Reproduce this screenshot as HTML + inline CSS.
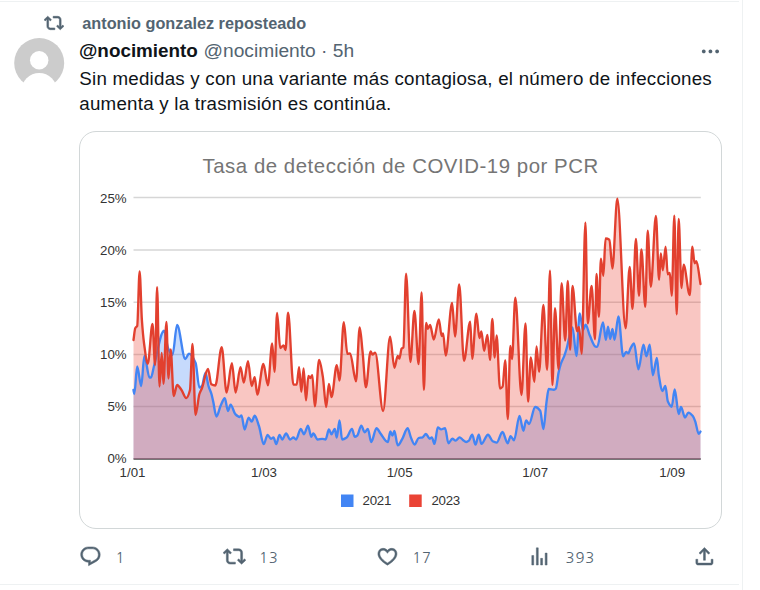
<!DOCTYPE html>
<html><head><meta charset="utf-8"><title>Tweet</title>
<style>
html,body{margin:0;padding:0;background:#fff;}
body{width:760px;height:590px;position:relative;overflow:hidden;font-family:"Liberation Sans",Arial,sans-serif;}
.abs{position:absolute;white-space:nowrap;}
.hl{position:absolute;background:#eef1f2;}
.ctx{left:82.3px;top:12.8px;font-size:16.25px;line-height:20px;font-weight:bold;color:#536471;}
.name{left:79px;top:37.6px;font-size:18.85px;line-height:25px;font-weight:bold;color:#0f1419;}
.handle{left:203.5px;top:37.7px;font-size:19.2px;line-height:25px;color:#536471;}
.body{left:79.3px;top:65.6px;font-size:18.75px;line-height:25px;color:#0f1419;letter-spacing:0.22px;}
.box{position:absolute;left:79px;top:131px;width:641px;height:396px;border:1px solid #d2d7d8;border-radius:17px;}
.chart{position:absolute;left:0;top:0;}
.ico{position:absolute;top:545px;width:22.9px;height:22.9px;fill:#536471;stroke:#536471;stroke-width:0.5px;}
.cnt{position:absolute;top:546.8px;font-size:14.8px;letter-spacing:0.9px;line-height:22px;color:#536471;font-family:"NanumGothic","Liberation Sans",sans-serif;}
</style></head>
<body>
<div class="hl" style="left:0;top:1px;width:739px;height:1px;"></div>
<div class="hl" style="left:742px;top:0;width:1px;height:590px;"></div>
<div class="hl" style="left:0;top:584px;width:739px;height:1px;"></div>

<svg class="abs" style="left:44.1px;top:12.7px;width:20px;height:20px;fill:#536471;stroke:#536471;stroke-width:0.7px" viewBox="0 0 24 24"><path d="M4.5 3.88l4.432 4.14-1.364 1.46L5.5 7.55V16c0 1.1.896 2 2 2H13v2H7.5c-2.209 0-4-1.79-4-4V7.55L1.432 9.48.068 8.02 4.5 3.88zM16.5 6H11V4h5.5c2.209 0 4 1.79 4 4v8.45l2.068-1.93 1.364 1.46-4.432 4.14-4.432-4.14 1.364-1.46 2.068 1.93V8c0-1.1-.896-2-2-2z"/></svg>
<div class="abs ctx">antonio gonzalez reposteado</div>

<svg class="abs" style="left:14px;top:38px;width:50.4px;height:70px;overflow:visible" viewBox="0 0 50 70"><circle cx="25" cy="25" r="25" fill="#cccccc"/><circle cx="25" cy="22.3" r="9.2" fill="#fff"/><circle cx="25" cy="52.8" r="17.8" fill="#fff"/></svg>

<div class="abs name">@nocimiento</div>
<div class="abs handle">@nocimiento · 5h</div>
<svg class="abs" style="left:699px;top:39.5px;width:22.9px;height:22.9px;fill:#536471" viewBox="0 0 24 24"><path d="M3 12c0-1.1.9-2 2-2s2 .9 2 2-.9 2-2 2-2-.9-2-2zm9 2c1.1 0 2-.9 2-2s-.9-2-2-2-2 .9-2 2 .9 2 2 2zm7 0c1.1 0 2-.9 2-2s-.9-2-2-2-2 .9-2 2 .9 2 2 2z"/></svg>

<div class="abs body">Sin medidas y con una variante más contagiosa, el número de infecciones<br>aumenta y la trasmisión es continúa.</div>

<div class="box"></div>
<svg class="chart" width="760" height="590" viewBox="0 0 760 590">
<g stroke="#d6d6d6" stroke-width="1.5">
<line x1="133.5" y1="197.6" x2="700.8" y2="197.6"/>
<line x1="133.5" y1="249.9" x2="700.8" y2="249.9"/>
<line x1="133.5" y1="302.2" x2="700.8" y2="302.2"/>
<line x1="133.5" y1="354.5" x2="700.8" y2="354.5"/>
<line x1="133.5" y1="406.6" x2="700.8" y2="406.6"/>
</g>
<line x1="133.5" y1="459" x2="700.8" y2="459" stroke="#4a4a4a" stroke-width="1.7"/>
<path d="M133.5,459 L133.5,390C133.8,391.3 134,394 134.3,394C135.3,394 136.2,366.5 137.2,366.5C138.5,366.5 139.9,386 141.2,386C142.3,386 143.3,356 144.4,356C146.1,356 147.8,377.5 149.5,377.5C150,377.5 150.5,377.5 151,377.5C152,377.5 153,369.7 154,366C157.3,353.7 160.7,330.7 164,330.7C165.3,330.7 166.7,344.9 168,348C169.5,351.5 171,355 172.5,355C174,355 175.6,325 177.1,325C179.8,325 182.6,359 185.3,359C186.5,359 187.8,353.6 189,353.6C191.2,353.6 193.4,357.6 195.6,363C196.9,366.1 198.1,387.5 199.4,387.5C200.3,387.5 201.1,386.8 202,386C203.1,384.9 204.3,373 205.4,373C206.4,373 207.5,382.6 208.5,386C209.5,389.4 210.6,390.9 211.6,394.5C212.1,396.4 212.7,399.2 213.2,401.6C214.3,406.4 215.3,416.5 216.4,416.5C217.8,416.5 219.2,408.8 220.6,405.8C222,402.8 223.4,398.2 224.8,398.2C225.9,398.2 226.9,411 228,411C228.9,411 229.7,404.6 230.6,404.6C232.2,404.6 233.7,412.6 235.3,414.2C236.7,415.6 238.1,417 239.5,417C240.2,417 240.8,415.3 241.5,415.3C242.5,415.3 243.6,429.5 244.6,429.5C245.9,429.5 247.3,417.6 248.6,417.6C249.6,417.6 250.7,421.6 251.7,421.6C252.7,421.6 253.7,415.7 254.7,415.7C256.1,415.7 257.6,421.9 259,426.2C260.6,430.8 262.1,444.1 263.7,444.1C265,444.1 266.3,434.8 267.6,434.8C268.7,434.8 269.8,438.8 270.9,438.8C271.8,438.8 272.6,437.5 273.5,437.5C274.4,437.5 275.3,444.1 276.2,444.1C277.3,444.1 278.4,434.8 279.5,434.8C280.4,434.8 281.3,439.5 282.2,439.5C283.5,439.5 284.8,433.5 286.1,433.5C287.4,433.5 288.8,439.5 290.1,439.5C291.2,439.5 292.3,437.5 293.4,437.5C294.3,437.5 295.2,439.5 296.1,439.5C297.6,439.5 299.2,428.9 300.7,428.9C301.8,428.9 302.9,434.2 304,434.2C305.3,434.2 306.7,425.6 308,425.6C309.1,425.6 310.2,436.8 311.3,436.8C312,436.8 312.6,433.5 313.3,433.5C314.7,433.5 316.2,439.5 317.6,439.5C319.2,439.5 320.7,438.8 322.3,438.8C323.4,438.8 324.5,439.5 325.6,439.5C326.7,439.5 327.8,429.5 328.9,429.5C329.8,429.5 330.6,434.2 331.5,434.2C332.6,434.2 333.7,428.9 334.8,428.9C335.5,428.9 336.1,437.5 336.8,437.5C337.7,437.5 338.6,420.3 339.5,420.3C340.4,420.3 341.2,439.5 342.1,439.5C343.6,439.5 345.2,438.5 346.7,437.5C348.5,436.3 350.2,428.9 352,428.9C352.9,428.9 353.8,436.8 354.7,436.8C355.6,436.8 356.4,436.2 357.3,435.5C358.6,434.4 360,425.6 361.3,425.6C362.4,425.6 363.5,432.2 364.6,432.2C365.7,432.2 366.8,428.9 367.9,428.9C369,428.9 370.1,442.1 371.2,442.1C373,442.1 374.7,428.2 376.5,428.2C377.8,428.2 379.2,431.8 380.5,433.5C382.9,436.6 385.4,442.1 387.8,442.1C388.7,442.1 389.5,431.5 390.4,431.5C391.1,431.5 391.7,435.5 392.4,435.5C393.1,435.5 393.7,430.9 394.4,430.9C395.5,430.9 396.6,445.4 397.7,445.4C399.2,445.4 400.8,441.4 402.3,438.8C404.1,435.9 405.8,428.2 407.6,428.2C408.7,428.2 409.8,435 410.9,437.5C412.1,440.3 413.4,444.6 414.6,444.6C415.9,444.6 417.3,438.4 418.6,438C419.9,437.6 421.3,437.7 422.6,437.3C423.7,437 424.8,434 425.9,434C427.2,434 428.5,438.7 429.8,438.7C430.5,438.7 431.1,437.3 431.8,437.3C432.7,437.3 433.6,443.9 434.5,443.9C435.6,443.9 436.7,427.4 437.8,427.4C438.9,427.4 440,429.4 441.1,429.4C442.4,429.4 443.8,428.1 445.1,428.1C446.2,428.1 447.3,443.3 448.4,443.3C449.7,443.3 451,438.7 452.3,438.7C453.4,438.7 454.5,440.6 455.6,440.6C456.9,440.6 458.3,437.3 459.6,437.3C460.7,437.3 461.8,439.2 462.9,440C464,440.8 465.1,442 466.2,442C467.1,442 468,441.3 468.9,440.6C470,439.7 471.1,434.7 472.2,434.7C473.3,434.7 474.4,444.6 475.5,444.6C476.6,444.6 477.7,434.7 478.8,434.7C479.7,434.7 480.5,443.9 481.4,443.9C483.6,443.9 485.8,434.7 488,434.7C489.6,434.7 491.1,440.5 492.7,441.3C494,442 495.3,442.6 496.6,442.6C498.6,442.6 500.5,432 502.5,432C504.2,432 506,443.2 507.7,443.2C508.7,443.2 509.6,436.1 510.6,436.1C511.7,436.1 512.9,440.3 514,440.3C515.8,440.3 517.7,416 519.5,416C520.8,416 522.1,430.8 523.4,430.8C524.3,430.8 525.2,420.3 526.1,420.3C527.1,420.3 528,424 529,424C531.1,424 533.1,407 535.2,407C536.9,407 538.5,408.4 540.2,410.8C541.3,412.3 542.3,429 543.4,429C544.5,429 545.5,408.7 546.6,401.3C547.3,396.5 548,389 548.7,389C550.4,389 552.2,389.7 553.9,389.7C554.6,389.7 555.2,389.2 555.9,388.4C556.8,387.4 557.7,376.7 558.6,372.5C559.3,369.1 560.1,366.2 560.8,364C562,360.3 563.3,358.7 564.5,355.3C565.2,353.5 565.8,351.2 566.5,349C568.5,342.3 570.5,327.3 572.5,327.3C573.8,327.3 575.1,356 576.4,356C577.5,356 578.6,313.4 579.7,313.4C580.8,313.4 581.9,330 583,330C583.9,330 584.8,324.7 585.7,324.7C587,324.7 588.4,332.3 589.7,335.3C591.7,339.7 593.6,346.3 595.6,346.7C596.1,346.8 596.7,346.9 597.2,346.9C599.1,346.9 601.1,322.3 603,322.3C604,322.3 604.9,339.7 605.9,339.7C606.6,339.7 607.3,326.6 608,326.6C608.7,326.6 609.5,338.9 610.2,338.9C610.9,338.9 611.7,328.8 612.4,328.8C613.1,328.8 613.8,339.7 614.5,339.7C615.8,339.7 617.1,316.5 618.4,316.5C620,316.5 621.6,356.3 623.2,356.3C624.2,356.3 625.1,352 626.1,352C626.8,352 627.6,353.4 628.3,353.4C629,353.4 629.8,349.7 630.5,348.4C631.7,346.3 632.9,343.3 634.1,343.3C635.5,343.3 637,369.3 638.4,369.3C640.1,369.3 641.8,344.7 643.5,344.7C644.5,344.7 645.4,356.3 646.4,356.3C647.5,356.3 648.6,344.7 649.7,344.7C650.7,344.7 651.8,375.2 652.8,375.2C654.2,375.2 655.5,357.8 656.9,357.8C657.5,357.8 658.2,371.5 658.8,375.3C660.1,382.9 661.3,391.1 662.6,391.1C663.5,391.1 664.4,385.8 665.3,385.8C666.2,385.8 667,399.6 667.9,401.6C669.2,404.5 670.4,406.7 671.7,406.7C672.7,406.7 673.7,389.5 674.7,389.5C676,389.5 677.4,414 678.7,414C679.5,414 680.2,407 681,407C682.3,407 683.7,417.6 685,417.6C686.1,417.6 687.3,412.6 688.4,412.6C689.9,412.6 691.3,414.2 692.8,416C693.6,417 694.5,419.3 695.3,421.6C696.4,424.7 697.6,433.9 698.7,433.9C699.3,433.9 699.9,432.4 700.5,431.6 L700.5,459 Z" fill="#4285f4" fill-opacity="0.3"/>
<path d="M133.5,459 L133.5,340C134.1,336 134.7,329.1 135.3,328C135.9,326.8 136.6,327.2 137.2,326C138,324.4 138.8,271.3 139.6,271.3C140.4,271.3 141.1,309 141.9,320C142.6,330.1 143.3,337.7 144,343C145.3,352.5 146.5,363.7 147.8,363.7C149.4,363.7 150.9,324 152.5,324C153.4,324 154.2,365 155.1,365C155.8,365 156.4,287.2 157.1,287.2C157.9,287.2 158.7,386.5 159.5,386.5C160.2,386.5 161,353 161.7,353C162.3,353 162.9,383.7 163.5,383.7C164.5,383.7 165.4,322 166.4,322C167.1,322 167.8,378.5 168.5,378.5C169.2,378.5 170,349.5 170.7,349.5C171.7,349.5 172.7,396 173.7,396C174.8,396 176,385 177.1,385C178.6,385 180,388 181.5,390C183.1,392.1 184.6,398 186.2,398C187.5,398 188.7,395.1 190,390C190.8,386.7 191.7,343.8 192.5,343.8C193.5,343.8 194.5,415 195.5,415C196.8,415 198.1,398.1 199.4,394C200.3,391.3 201.1,390.3 202,388C204,382.8 206,369 208,369C209.1,369 210.2,383.5 211.3,384.2C212.6,385 214,385.5 215.3,385.5C217.4,385.5 219.6,347.1 221.7,347.1C223.3,347.1 225,392.5 226.6,392.5C228.4,392.5 230.1,363.2 231.9,363.2C233.1,363.2 234.4,392.5 235.6,392.5C237.2,392.5 238.9,367.2 240.5,367.2C241.6,367.2 242.7,382.6 243.8,382.6C245.2,382.6 246.6,361.2 248,361.2C249.2,361.2 250.5,386 251.7,386C252.7,386 253.7,377.1 254.7,377.1C255.6,377.1 256.4,394.5 257.3,394.5C259.3,394.5 261.4,363.9 263.4,363.9C264.9,363.9 266.4,385.2 267.9,385.2C269.3,385.2 270.8,343.4 272.2,343.4C273,343.4 273.7,371.8 274.5,371.8C275.4,371.8 276.2,312.9 277.1,312.9C278.1,312.9 279.2,348 280.2,348C281.3,348 282.4,345.3 283.5,345.3C284.2,345.3 284.8,350 285.5,350C286.4,350 287.2,312.7 288.1,312.7C289.9,312.7 291.6,384.6 293.4,384.6C294.5,384.6 295.6,384.6 296.7,384.6C297.5,384.6 298.3,367.2 299.1,367.2C299.8,367.2 300.6,391.8 301.3,391.8C302.1,391.8 302.8,368.5 303.6,368.5C304.4,368.5 305.2,400.4 306,400.4C306.8,400.4 307.6,375.8 308.4,375.8C309.1,375.8 309.7,378 310.4,378C311,378 311.7,375.1 312.3,375.1C313.1,375.1 314,406.4 314.8,406.4C316.2,406.4 317.7,359.9 319.1,359.9C320.4,359.9 321.6,369.4 322.9,377.1C324,383.8 325.1,407.1 326.2,407.1C327.1,407.1 328,383.9 328.9,383.9C329.8,383.9 330.6,397.1 331.5,397.1C333.3,397.1 335,365.2 336.8,365.2C337.7,365.2 338.6,380.5 339.5,380.5C340.9,380.5 342.4,322.2 343.8,322.2C345,322.2 346.2,353.9 347.4,353.9C348.3,353.9 349.2,353.3 350.1,353.3C352.1,353.3 354,381.2 356,381.2C357.2,381.2 358.5,327.5 359.7,327.5C360.7,327.5 361.6,342.9 362.6,352C363.7,362.3 364.8,387.2 365.9,387.2C367.5,387.2 369,351.3 370.6,351.3C371.2,351.3 371.9,354.6 372.5,354.6C373.4,354.6 374.3,352.6 375.2,352.6C377.8,352.6 380.5,411 383.1,411C385.4,411 387.8,336.7 390.1,336.7C391.5,336.7 393,367.8 394.4,367.8C395.5,367.8 396.6,355.9 397.7,355.9C398.3,355.9 398.8,358.6 399.4,358.6C400.1,358.6 400.9,349.7 401.6,348.7C402.2,347.9 402.8,348.2 403.4,347.3C404.3,346 405.2,273.6 406.1,273.6C407.5,273.6 409,362 410.4,362C411.7,362 413.1,311 414.4,311C415.8,311 417.2,364.1 418.6,364.1C419.6,364.1 420.6,292.5 421.6,292.5C422.4,292.5 423.1,389.9 423.9,389.9C424.6,389.9 425.4,322.9 426.1,322.9C426.7,322.9 427.3,328.8 427.9,328.8C428.6,328.8 429.4,324.9 430.1,324.9C431.3,324.9 432.6,339.5 433.8,339.5C435.5,339.5 437.1,319.3 438.8,319.3C439.8,319.3 440.7,336.1 441.7,336.1C442.2,336.1 442.6,333.5 443.1,333.5C444,333.5 444.8,355.5 445.7,355.5C447.8,355.5 450,303 452.1,303C453.1,303 454,336.5 455,336.5C456.4,336.5 457.8,284.5 459.2,284.5C460.8,284.5 462.4,360.8 464,360.8C466.1,360.8 468.1,321.6 470.2,321.6C470.9,321.6 471.5,358.8 472.2,358.8C473.6,358.8 475,313.6 476.4,313.6C477.4,313.6 478.4,338.1 479.4,338.1C480.1,338.1 480.7,331.5 481.4,331.5C482.3,331.5 483.2,350.9 484.1,350.9C485.2,350.9 486.3,334.8 487.4,334.8C488.3,334.8 489.1,360.1 490,360.1C490.8,360.1 491.5,318.9 492.3,318.9C493.1,318.9 493.9,357.5 494.7,357.5C495.3,357.5 496,335.5 496.6,335.5C497.7,335.5 498.9,388.6 500,388.6C500.9,388.6 501.7,387.8 502.6,386.6C503.5,385.4 504.3,360.1 505.2,360.1C506.1,360.1 506.9,419 507.8,419C508.6,419 509.5,346 510.3,346C510.9,346 511.4,359 512,359C513.1,359 514.2,297.6 515.3,297.6C517.4,297.6 519.4,395 521.5,395C522.8,395 524.2,323.4 525.5,323.4C526.4,323.4 527.2,401.6 528.1,401.6C529,401.6 529.9,357.5 530.8,357.5C532,357.5 533.2,381.7 534.4,381.7C535.1,381.7 535.8,346.5 536.5,346.5C537.4,346.5 538.2,371.8 539.1,371.8C540.5,371.8 542,304.8 543.4,304.8C544.6,304.8 545.9,369.8 547.1,369.8C548.1,369.8 549,270.6 550,270.6C550.8,270.6 551.6,385 552.4,385C553.3,385 554.1,308.1 555,308.1C556.2,308.1 557.4,369.2 558.6,369.2C559.6,369.2 560.6,283.1 561.6,283.1C562.8,283.1 564,340.6 565.2,340.6C566.1,340.6 566.9,280.9 567.8,280.9C568.6,280.9 569.3,349.8 570.1,349.8C570.9,349.8 571.7,285.8 572.5,285.8C574,285.8 575.6,331.3 577.1,331.3C577.7,331.3 578.4,327 579,327C579.9,327 580.8,353.8 581.7,353.8C582.9,353.8 584.2,222.7 585.4,222.7C586.2,222.7 586.9,323.4 587.7,323.4C589,323.4 590.3,285.8 591.6,285.8C592.7,285.8 593.9,339.2 595,339.2C595.5,339.2 596,273.9 596.5,273.9C597.3,273.9 598.1,316.7 598.9,316.7C599.6,316.7 600.2,258.7 600.9,258.7C601.7,258.7 602.5,275.7 603.3,275.7C604.1,275.7 604.8,238.5 605.6,238.5C606.9,238.5 608.1,238.9 609.4,239.7C610.4,240.3 611.4,268.5 612.4,268.5C614,268.5 615.7,198.6 617.3,198.6C620.1,198.6 622.8,328.2 625.6,328.2C627,328.2 628.3,267 629.7,267C630.6,267 631.6,308.9 632.5,308.9C633.6,308.9 634.8,239 635.9,239C636.9,239 638,295.7 639,295.7C639.8,295.7 640.6,249.4 641.4,249.4C642.7,249.4 644,306.8 645.3,306.8C646.1,306.8 646.9,230.7 647.7,230.7C648.7,230.7 649.8,286.8 650.8,286.8C652.5,286.8 654.2,216 655.9,216C657,216 658,279.9 659.1,279.9C659.7,279.9 660.2,253.5 660.8,253.5C661.5,253.5 662.1,270.2 662.8,270.2C663.7,270.2 664.7,246.6 665.6,246.6C666.3,246.6 667,274.3 667.7,274.3C668.4,274.3 669.1,273 669.8,273C670.5,273 671.1,295.7 671.8,295.7C672.6,295.7 673.5,215.6 674.3,215.6C675.1,215.6 675.9,314.4 676.7,314.4C677.4,314.4 678,219 678.7,219C679.6,219 680.6,288.1 681.5,288.1C682.2,288.1 682.9,264.7 683.6,264.7C685.7,264.7 687.7,295.1 689.8,295.1C690.6,295.1 691.5,246.6 692.3,246.6C693.1,246.6 693.8,263.3 694.6,263.3C695.2,263.3 695.8,261.2 696.4,261.2C697.8,261.2 699.1,276.4 700.5,284 L700.5,459 Z" fill="#ea4335" fill-opacity="0.3"/>
<path d="M133.5,390C133.8,391.3 134,394 134.3,394C135.3,394 136.2,366.5 137.2,366.5C138.5,366.5 139.9,386 141.2,386C142.3,386 143.3,356 144.4,356C146.1,356 147.8,377.5 149.5,377.5C150,377.5 150.5,377.5 151,377.5C152,377.5 153,369.7 154,366C157.3,353.7 160.7,330.7 164,330.7C165.3,330.7 166.7,344.9 168,348C169.5,351.5 171,355 172.5,355C174,355 175.6,325 177.1,325C179.8,325 182.6,359 185.3,359C186.5,359 187.8,353.6 189,353.6C191.2,353.6 193.4,357.6 195.6,363C196.9,366.1 198.1,387.5 199.4,387.5C200.3,387.5 201.1,386.8 202,386C203.1,384.9 204.3,373 205.4,373C206.4,373 207.5,382.6 208.5,386C209.5,389.4 210.6,390.9 211.6,394.5C212.1,396.4 212.7,399.2 213.2,401.6C214.3,406.4 215.3,416.5 216.4,416.5C217.8,416.5 219.2,408.8 220.6,405.8C222,402.8 223.4,398.2 224.8,398.2C225.9,398.2 226.9,411 228,411C228.9,411 229.7,404.6 230.6,404.6C232.2,404.6 233.7,412.6 235.3,414.2C236.7,415.6 238.1,417 239.5,417C240.2,417 240.8,415.3 241.5,415.3C242.5,415.3 243.6,429.5 244.6,429.5C245.9,429.5 247.3,417.6 248.6,417.6C249.6,417.6 250.7,421.6 251.7,421.6C252.7,421.6 253.7,415.7 254.7,415.7C256.1,415.7 257.6,421.9 259,426.2C260.6,430.8 262.1,444.1 263.7,444.1C265,444.1 266.3,434.8 267.6,434.8C268.7,434.8 269.8,438.8 270.9,438.8C271.8,438.8 272.6,437.5 273.5,437.5C274.4,437.5 275.3,444.1 276.2,444.1C277.3,444.1 278.4,434.8 279.5,434.8C280.4,434.8 281.3,439.5 282.2,439.5C283.5,439.5 284.8,433.5 286.1,433.5C287.4,433.5 288.8,439.5 290.1,439.5C291.2,439.5 292.3,437.5 293.4,437.5C294.3,437.5 295.2,439.5 296.1,439.5C297.6,439.5 299.2,428.9 300.7,428.9C301.8,428.9 302.9,434.2 304,434.2C305.3,434.2 306.7,425.6 308,425.6C309.1,425.6 310.2,436.8 311.3,436.8C312,436.8 312.6,433.5 313.3,433.5C314.7,433.5 316.2,439.5 317.6,439.5C319.2,439.5 320.7,438.8 322.3,438.8C323.4,438.8 324.5,439.5 325.6,439.5C326.7,439.5 327.8,429.5 328.9,429.5C329.8,429.5 330.6,434.2 331.5,434.2C332.6,434.2 333.7,428.9 334.8,428.9C335.5,428.9 336.1,437.5 336.8,437.5C337.7,437.5 338.6,420.3 339.5,420.3C340.4,420.3 341.2,439.5 342.1,439.5C343.6,439.5 345.2,438.5 346.7,437.5C348.5,436.3 350.2,428.9 352,428.9C352.9,428.9 353.8,436.8 354.7,436.8C355.6,436.8 356.4,436.2 357.3,435.5C358.6,434.4 360,425.6 361.3,425.6C362.4,425.6 363.5,432.2 364.6,432.2C365.7,432.2 366.8,428.9 367.9,428.9C369,428.9 370.1,442.1 371.2,442.1C373,442.1 374.7,428.2 376.5,428.2C377.8,428.2 379.2,431.8 380.5,433.5C382.9,436.6 385.4,442.1 387.8,442.1C388.7,442.1 389.5,431.5 390.4,431.5C391.1,431.5 391.7,435.5 392.4,435.5C393.1,435.5 393.7,430.9 394.4,430.9C395.5,430.9 396.6,445.4 397.7,445.4C399.2,445.4 400.8,441.4 402.3,438.8C404.1,435.9 405.8,428.2 407.6,428.2C408.7,428.2 409.8,435 410.9,437.5C412.1,440.3 413.4,444.6 414.6,444.6C415.9,444.6 417.3,438.4 418.6,438C419.9,437.6 421.3,437.7 422.6,437.3C423.7,437 424.8,434 425.9,434C427.2,434 428.5,438.7 429.8,438.7C430.5,438.7 431.1,437.3 431.8,437.3C432.7,437.3 433.6,443.9 434.5,443.9C435.6,443.9 436.7,427.4 437.8,427.4C438.9,427.4 440,429.4 441.1,429.4C442.4,429.4 443.8,428.1 445.1,428.1C446.2,428.1 447.3,443.3 448.4,443.3C449.7,443.3 451,438.7 452.3,438.7C453.4,438.7 454.5,440.6 455.6,440.6C456.9,440.6 458.3,437.3 459.6,437.3C460.7,437.3 461.8,439.2 462.9,440C464,440.8 465.1,442 466.2,442C467.1,442 468,441.3 468.9,440.6C470,439.7 471.1,434.7 472.2,434.7C473.3,434.7 474.4,444.6 475.5,444.6C476.6,444.6 477.7,434.7 478.8,434.7C479.7,434.7 480.5,443.9 481.4,443.9C483.6,443.9 485.8,434.7 488,434.7C489.6,434.7 491.1,440.5 492.7,441.3C494,442 495.3,442.6 496.6,442.6C498.6,442.6 500.5,432 502.5,432C504.2,432 506,443.2 507.7,443.2C508.7,443.2 509.6,436.1 510.6,436.1C511.7,436.1 512.9,440.3 514,440.3C515.8,440.3 517.7,416 519.5,416C520.8,416 522.1,430.8 523.4,430.8C524.3,430.8 525.2,420.3 526.1,420.3C527.1,420.3 528,424 529,424C531.1,424 533.1,407 535.2,407C536.9,407 538.5,408.4 540.2,410.8C541.3,412.3 542.3,429 543.4,429C544.5,429 545.5,408.7 546.6,401.3C547.3,396.5 548,389 548.7,389C550.4,389 552.2,389.7 553.9,389.7C554.6,389.7 555.2,389.2 555.9,388.4C556.8,387.4 557.7,376.7 558.6,372.5C559.3,369.1 560.1,366.2 560.8,364C562,360.3 563.3,358.7 564.5,355.3C565.2,353.5 565.8,351.2 566.5,349C568.5,342.3 570.5,327.3 572.5,327.3C573.8,327.3 575.1,356 576.4,356C577.5,356 578.6,313.4 579.7,313.4C580.8,313.4 581.9,330 583,330C583.9,330 584.8,324.7 585.7,324.7C587,324.7 588.4,332.3 589.7,335.3C591.7,339.7 593.6,346.3 595.6,346.7C596.1,346.8 596.7,346.9 597.2,346.9C599.1,346.9 601.1,322.3 603,322.3C604,322.3 604.9,339.7 605.9,339.7C606.6,339.7 607.3,326.6 608,326.6C608.7,326.6 609.5,338.9 610.2,338.9C610.9,338.9 611.7,328.8 612.4,328.8C613.1,328.8 613.8,339.7 614.5,339.7C615.8,339.7 617.1,316.5 618.4,316.5C620,316.5 621.6,356.3 623.2,356.3C624.2,356.3 625.1,352 626.1,352C626.8,352 627.6,353.4 628.3,353.4C629,353.4 629.8,349.7 630.5,348.4C631.7,346.3 632.9,343.3 634.1,343.3C635.5,343.3 637,369.3 638.4,369.3C640.1,369.3 641.8,344.7 643.5,344.7C644.5,344.7 645.4,356.3 646.4,356.3C647.5,356.3 648.6,344.7 649.7,344.7C650.7,344.7 651.8,375.2 652.8,375.2C654.2,375.2 655.5,357.8 656.9,357.8C657.5,357.8 658.2,371.5 658.8,375.3C660.1,382.9 661.3,391.1 662.6,391.1C663.5,391.1 664.4,385.8 665.3,385.8C666.2,385.8 667,399.6 667.9,401.6C669.2,404.5 670.4,406.7 671.7,406.7C672.7,406.7 673.7,389.5 674.7,389.5C676,389.5 677.4,414 678.7,414C679.5,414 680.2,407 681,407C682.3,407 683.7,417.6 685,417.6C686.1,417.6 687.3,412.6 688.4,412.6C689.9,412.6 691.3,414.2 692.8,416C693.6,417 694.5,419.3 695.3,421.6C696.4,424.7 697.6,433.9 698.7,433.9C699.3,433.9 699.9,432.4 700.5,431.6" fill="none" stroke="#4285f4" stroke-width="2.35" stroke-linejoin="round" stroke-linecap="round"/>
<path d="M133.5,340C134.1,336 134.7,329.1 135.3,328C135.9,326.8 136.6,327.2 137.2,326C138,324.4 138.8,271.3 139.6,271.3C140.4,271.3 141.1,309 141.9,320C142.6,330.1 143.3,337.7 144,343C145.3,352.5 146.5,363.7 147.8,363.7C149.4,363.7 150.9,324 152.5,324C153.4,324 154.2,365 155.1,365C155.8,365 156.4,287.2 157.1,287.2C157.9,287.2 158.7,386.5 159.5,386.5C160.2,386.5 161,353 161.7,353C162.3,353 162.9,383.7 163.5,383.7C164.5,383.7 165.4,322 166.4,322C167.1,322 167.8,378.5 168.5,378.5C169.2,378.5 170,349.5 170.7,349.5C171.7,349.5 172.7,396 173.7,396C174.8,396 176,385 177.1,385C178.6,385 180,388 181.5,390C183.1,392.1 184.6,398 186.2,398C187.5,398 188.7,395.1 190,390C190.8,386.7 191.7,343.8 192.5,343.8C193.5,343.8 194.5,415 195.5,415C196.8,415 198.1,398.1 199.4,394C200.3,391.3 201.1,390.3 202,388C204,382.8 206,369 208,369C209.1,369 210.2,383.5 211.3,384.2C212.6,385 214,385.5 215.3,385.5C217.4,385.5 219.6,347.1 221.7,347.1C223.3,347.1 225,392.5 226.6,392.5C228.4,392.5 230.1,363.2 231.9,363.2C233.1,363.2 234.4,392.5 235.6,392.5C237.2,392.5 238.9,367.2 240.5,367.2C241.6,367.2 242.7,382.6 243.8,382.6C245.2,382.6 246.6,361.2 248,361.2C249.2,361.2 250.5,386 251.7,386C252.7,386 253.7,377.1 254.7,377.1C255.6,377.1 256.4,394.5 257.3,394.5C259.3,394.5 261.4,363.9 263.4,363.9C264.9,363.9 266.4,385.2 267.9,385.2C269.3,385.2 270.8,343.4 272.2,343.4C273,343.4 273.7,371.8 274.5,371.8C275.4,371.8 276.2,312.9 277.1,312.9C278.1,312.9 279.2,348 280.2,348C281.3,348 282.4,345.3 283.5,345.3C284.2,345.3 284.8,350 285.5,350C286.4,350 287.2,312.7 288.1,312.7C289.9,312.7 291.6,384.6 293.4,384.6C294.5,384.6 295.6,384.6 296.7,384.6C297.5,384.6 298.3,367.2 299.1,367.2C299.8,367.2 300.6,391.8 301.3,391.8C302.1,391.8 302.8,368.5 303.6,368.5C304.4,368.5 305.2,400.4 306,400.4C306.8,400.4 307.6,375.8 308.4,375.8C309.1,375.8 309.7,378 310.4,378C311,378 311.7,375.1 312.3,375.1C313.1,375.1 314,406.4 314.8,406.4C316.2,406.4 317.7,359.9 319.1,359.9C320.4,359.9 321.6,369.4 322.9,377.1C324,383.8 325.1,407.1 326.2,407.1C327.1,407.1 328,383.9 328.9,383.9C329.8,383.9 330.6,397.1 331.5,397.1C333.3,397.1 335,365.2 336.8,365.2C337.7,365.2 338.6,380.5 339.5,380.5C340.9,380.5 342.4,322.2 343.8,322.2C345,322.2 346.2,353.9 347.4,353.9C348.3,353.9 349.2,353.3 350.1,353.3C352.1,353.3 354,381.2 356,381.2C357.2,381.2 358.5,327.5 359.7,327.5C360.7,327.5 361.6,342.9 362.6,352C363.7,362.3 364.8,387.2 365.9,387.2C367.5,387.2 369,351.3 370.6,351.3C371.2,351.3 371.9,354.6 372.5,354.6C373.4,354.6 374.3,352.6 375.2,352.6C377.8,352.6 380.5,411 383.1,411C385.4,411 387.8,336.7 390.1,336.7C391.5,336.7 393,367.8 394.4,367.8C395.5,367.8 396.6,355.9 397.7,355.9C398.3,355.9 398.8,358.6 399.4,358.6C400.1,358.6 400.9,349.7 401.6,348.7C402.2,347.9 402.8,348.2 403.4,347.3C404.3,346 405.2,273.6 406.1,273.6C407.5,273.6 409,362 410.4,362C411.7,362 413.1,311 414.4,311C415.8,311 417.2,364.1 418.6,364.1C419.6,364.1 420.6,292.5 421.6,292.5C422.4,292.5 423.1,389.9 423.9,389.9C424.6,389.9 425.4,322.9 426.1,322.9C426.7,322.9 427.3,328.8 427.9,328.8C428.6,328.8 429.4,324.9 430.1,324.9C431.3,324.9 432.6,339.5 433.8,339.5C435.5,339.5 437.1,319.3 438.8,319.3C439.8,319.3 440.7,336.1 441.7,336.1C442.2,336.1 442.6,333.5 443.1,333.5C444,333.5 444.8,355.5 445.7,355.5C447.8,355.5 450,303 452.1,303C453.1,303 454,336.5 455,336.5C456.4,336.5 457.8,284.5 459.2,284.5C460.8,284.5 462.4,360.8 464,360.8C466.1,360.8 468.1,321.6 470.2,321.6C470.9,321.6 471.5,358.8 472.2,358.8C473.6,358.8 475,313.6 476.4,313.6C477.4,313.6 478.4,338.1 479.4,338.1C480.1,338.1 480.7,331.5 481.4,331.5C482.3,331.5 483.2,350.9 484.1,350.9C485.2,350.9 486.3,334.8 487.4,334.8C488.3,334.8 489.1,360.1 490,360.1C490.8,360.1 491.5,318.9 492.3,318.9C493.1,318.9 493.9,357.5 494.7,357.5C495.3,357.5 496,335.5 496.6,335.5C497.7,335.5 498.9,388.6 500,388.6C500.9,388.6 501.7,387.8 502.6,386.6C503.5,385.4 504.3,360.1 505.2,360.1C506.1,360.1 506.9,419 507.8,419C508.6,419 509.5,346 510.3,346C510.9,346 511.4,359 512,359C513.1,359 514.2,297.6 515.3,297.6C517.4,297.6 519.4,395 521.5,395C522.8,395 524.2,323.4 525.5,323.4C526.4,323.4 527.2,401.6 528.1,401.6C529,401.6 529.9,357.5 530.8,357.5C532,357.5 533.2,381.7 534.4,381.7C535.1,381.7 535.8,346.5 536.5,346.5C537.4,346.5 538.2,371.8 539.1,371.8C540.5,371.8 542,304.8 543.4,304.8C544.6,304.8 545.9,369.8 547.1,369.8C548.1,369.8 549,270.6 550,270.6C550.8,270.6 551.6,385 552.4,385C553.3,385 554.1,308.1 555,308.1C556.2,308.1 557.4,369.2 558.6,369.2C559.6,369.2 560.6,283.1 561.6,283.1C562.8,283.1 564,340.6 565.2,340.6C566.1,340.6 566.9,280.9 567.8,280.9C568.6,280.9 569.3,349.8 570.1,349.8C570.9,349.8 571.7,285.8 572.5,285.8C574,285.8 575.6,331.3 577.1,331.3C577.7,331.3 578.4,327 579,327C579.9,327 580.8,353.8 581.7,353.8C582.9,353.8 584.2,222.7 585.4,222.7C586.2,222.7 586.9,323.4 587.7,323.4C589,323.4 590.3,285.8 591.6,285.8C592.7,285.8 593.9,339.2 595,339.2C595.5,339.2 596,273.9 596.5,273.9C597.3,273.9 598.1,316.7 598.9,316.7C599.6,316.7 600.2,258.7 600.9,258.7C601.7,258.7 602.5,275.7 603.3,275.7C604.1,275.7 604.8,238.5 605.6,238.5C606.9,238.5 608.1,238.9 609.4,239.7C610.4,240.3 611.4,268.5 612.4,268.5C614,268.5 615.7,198.6 617.3,198.6C620.1,198.6 622.8,328.2 625.6,328.2C627,328.2 628.3,267 629.7,267C630.6,267 631.6,308.9 632.5,308.9C633.6,308.9 634.8,239 635.9,239C636.9,239 638,295.7 639,295.7C639.8,295.7 640.6,249.4 641.4,249.4C642.7,249.4 644,306.8 645.3,306.8C646.1,306.8 646.9,230.7 647.7,230.7C648.7,230.7 649.8,286.8 650.8,286.8C652.5,286.8 654.2,216 655.9,216C657,216 658,279.9 659.1,279.9C659.7,279.9 660.2,253.5 660.8,253.5C661.5,253.5 662.1,270.2 662.8,270.2C663.7,270.2 664.7,246.6 665.6,246.6C666.3,246.6 667,274.3 667.7,274.3C668.4,274.3 669.1,273 669.8,273C670.5,273 671.1,295.7 671.8,295.7C672.6,295.7 673.5,215.6 674.3,215.6C675.1,215.6 675.9,314.4 676.7,314.4C677.4,314.4 678,219 678.7,219C679.6,219 680.6,288.1 681.5,288.1C682.2,288.1 682.9,264.7 683.6,264.7C685.7,264.7 687.7,295.1 689.8,295.1C690.6,295.1 691.5,246.6 692.3,246.6C693.1,246.6 693.8,263.3 694.6,263.3C695.2,263.3 695.8,261.2 696.4,261.2C697.8,261.2 699.1,276.4 700.5,284" fill="none" stroke="#e2402f" stroke-width="2.35" stroke-linejoin="round" stroke-linecap="round"/>
<g font-family="Liberation Sans, Arial, sans-serif" font-size="13.3" fill="#333" text-anchor="end">
<text x="126.7" y="202.8">25%</text>
<text x="126.7" y="254.8">20%</text>
<text x="126.7" y="306.8">15%</text>
<text x="126.7" y="358.7">10%</text>
<text x="126.7" y="410.7">5%</text>
<text x="126.7" y="462.7">0%</text>
</g>
<g font-family="Liberation Sans, Arial, sans-serif" font-size="13.3" fill="#333" text-anchor="middle">
<text x="132.5" y="476.8">1/01</text>
<text x="264" y="476.8">1/03</text>
<text x="399.6" y="476.8">1/05</text>
<text x="535.2" y="476.8">1/07</text>
<text x="672.2" y="476.8">1/09</text>
</g>
<text x="400.6" y="173.1" font-family="Liberation Sans, Arial, sans-serif" font-size="20.4" letter-spacing="0.54" fill="#757575" text-anchor="middle">Tasa de detección de COVID-19 por PCR</text>
<rect x="341" y="494.5" width="12.5" height="12.5" fill="#4285f4"/>
<rect x="409.2" y="494.5" width="12.5" height="12.5" fill="#ea4335"/>
<g font-family="Liberation Sans, Arial, sans-serif" font-size="13.3" fill="#333" letter-spacing="-0.3">
<text x="362.6" y="505">2021</text>
<text x="431.5" y="505">2023</text>
</g>
</svg>

<svg class="ico" style="left:79.2px" viewBox="0 0 24 24"><path d="M1.751 10c0-4.42 3.584-8 8.005-8h4.366c4.49 0 8.129 3.64 8.129 8.13 0 2.96-1.607 5.68-4.196 7.11l-8.054 4.46v-3.69h-.067c-4.49.1-8.183-3.51-8.183-8.01zm8.005-6c-3.317 0-6.005 2.69-6.005 6 0 3.37 2.77 6.08 6.138 6.01l.351-.01h1.761v2.3l5.087-2.81c1.951-1.08 3.163-3.13 3.163-5.36 0-3.39-2.744-6.13-6.129-6.13H9.756z"/></svg>
<div class="cnt" style="left:115.5px">1</div>
<svg class="ico" style="left:223px" viewBox="0 0 24 24"><path d="M4.5 3.88l4.432 4.14-1.364 1.46L5.5 7.55V16c0 1.1.896 2 2 2H13v2H7.5c-2.209 0-4-1.79-4-4V7.55L1.432 9.48.068 8.02 4.5 3.88zM16.5 6H11V4h5.5c2.209 0 4 1.79 4 4v8.45l2.068-1.93 1.364 1.46-4.432 4.14-4.432-4.14 1.364-1.46 2.068 1.93V8c0-1.1-.896-2-2-2z"/></svg>
<div class="cnt" style="left:259px">13</div>
<svg class="ico" style="left:376.4px" viewBox="0 0 24 24"><path d="M16.697 5.5c-1.222-.06-2.679.51-3.89 2.16l-.805 1.09-.806-1.09C9.984 6.01 8.526 5.44 7.304 5.5c-1.243.07-2.349.78-2.91 1.91-.552 1.12-.633 2.78.479 4.82 1.074 1.97 3.257 4.27 7.129 6.61 3.87-2.34 6.052-4.64 7.126-6.61 1.111-2.04 1.03-3.7.477-4.82-.561-1.13-1.666-1.84-2.908-1.91zm4.187 7.69c-1.351 2.48-4.001 5.12-8.379 7.67l-.503.3-.504-.3c-4.379-2.55-7.029-5.19-8.382-7.67-1.36-2.5-1.41-4.86-.514-6.67.887-1.79 2.647-2.91 4.601-3.01 1.651-.09 3.368.56 4.798 2.01 1.429-1.45 3.146-2.1 4.796-2.01 1.954.1 3.714 1.22 4.601 3.01.896 1.81.846 4.17-.514 6.67z"/></svg>
<div class="cnt" style="left:412.2px">17</div>
<svg class="ico" style="left:528px" viewBox="0 0 24 24"><path d="M8.75 21V3h2v18h-2zM18 21V8.5h2V21h-2zM4 21l.004-10h2L6 21H4zm9.248 0v-7h2v7h-2z"/></svg>
<div class="cnt" style="left:565.6px">393</div>
<svg class="ico" style="left:693.2px" viewBox="0 0 24 24"><path d="M12 2.59l5.7 5.7-1.41 1.42L13 6.41V16h-2V6.41l-3.3 3.3-1.41-1.42L12 2.59zM21 15l-.02 3.51c0 1.38-1.12 2.49-2.5 2.49H5.5C4.11 21 3 19.88 3 18.5V15h2v3.5c0 .28.22.5.5.5h12.98c.28 0 .5-.22.5-.5L19 15h2z"/></svg>
</body></html>
